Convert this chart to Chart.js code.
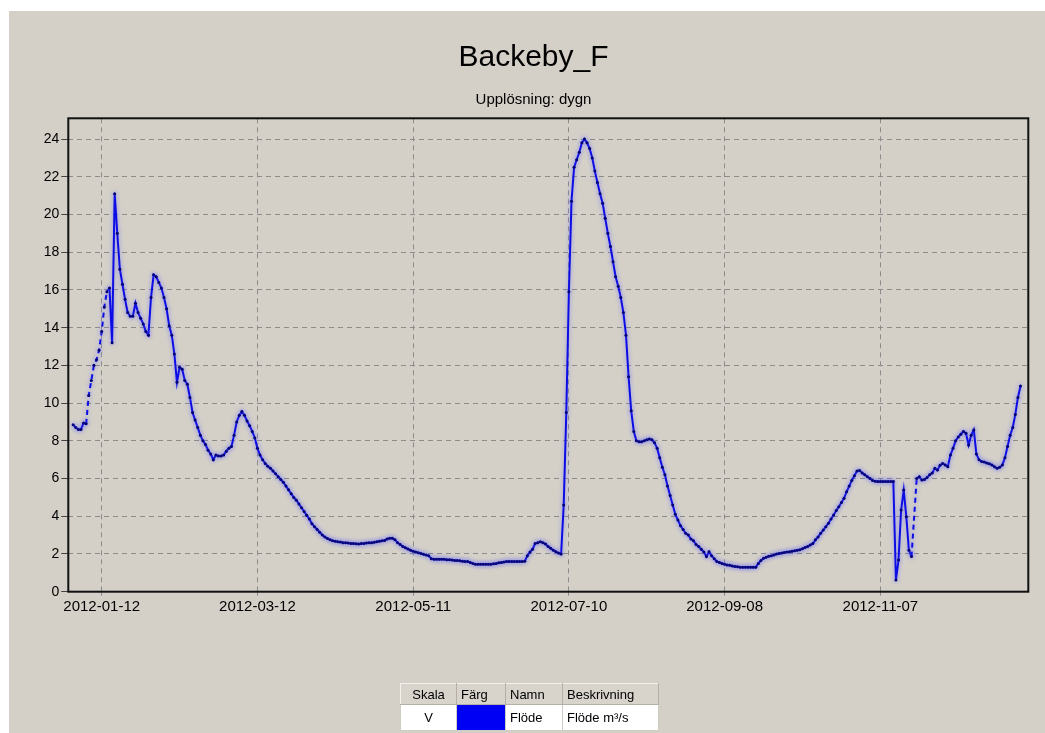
<!DOCTYPE html>
<html lang="sv">
<head>
<meta charset="UTF-8">
<title>Backeby_F</title>
<script src="https://cdn.jsdelivr.net/npm/chart.js"></script>
<style>
  html, body { margin: 0; padding: 0; background: #fff; }
  body { width: 1045px; height: 733px; position: relative; overflow: hidden; font-family: "Liberation Sans", Arial, sans-serif; }
  #panel { position: absolute; left: 9px; top: 11px; width: 1036px; height: 722px; background: #d4d0c8; }
  #graf { position: absolute; left: 0; top: 0; }
  #tabell { position: absolute; left: 400px; top: 683px; border-collapse: collapse; table-layout: fixed; width: 258px; font-size: 13px; color: #000; }
  #tabell th, #tabell td { padding: 0 4px; white-space: nowrap; overflow: hidden; text-align: left; font-weight: normal; }
  #tabell th { height: 20px; background: #d8d4cc; border: 1px solid #b4b0a8; border-top-color: #f4f2ee; border-left-color: #f4f2ee; }
  #tabell td { height: 25px; background: #fff; border: 1px solid #d0ccc4; }
  #tabell .mitt { text-align: center; }
  #tabell .farg { background: #0000f4; }
</style>
</head>
<body>
<div id="panel"></div>
<canvas id="graf" width="1045" height="733"></canvas>
<table id="tabell">
  <colgroup><col style="width:56px"><col style="width:49px"><col style="width:57px"><col style="width:96px"></colgroup>
  <tr><th class="mitt">Skala</th><th>Färg</th><th>Namn</th><th>Beskrivning</th></tr>
  <tr><td class="mitt">V</td><td class="farg"></td><td>Flöde</td><td>Flöde m³/s</td></tr>
</table>

<script>
// dygnsvärden 2012-01-01 .. 2012-12-31 (dag 0 = 1 jan), m3/s
const flode = [
  8.85, 8.7, 8.6, 8.6, 8.95, 8.9, 10.4, 11.2, 12.0, 12.3,
  12.8, 13.8, 15.1, 15.9, 16.1, 13.2, 21.1, 19.0, 17.1, 16.3,
  15.5, 14.8, 14.6, 14.6, 15.3, 14.8, 14.5, 14.2, 13.8, 13.6,
  15.6, 16.8, 16.7, 16.4, 16.1, 15.6, 15.0, 14.1, 13.6, 12.6,
  11.1, 11.9, 11.8, 11.2, 11.0, 10.3, 9.5, 9.1, 8.7, 8.3,
  8.0, 7.8, 7.5, 7.3, 7.0, 7.25, 7.2, 7.2, 7.25, 7.45,
  7.6, 7.7, 8.3, 9.0, 9.35, 9.55, 9.35, 9.05, 8.8, 8.5,
  8.15, 7.6, 7.25, 7.0, 6.8, 6.65, 6.55, 6.4, 6.25, 6.1,
  5.95, 5.8, 5.6, 5.4, 5.2, 5.0, 4.85, 4.65, 4.45, 4.25,
  4.05, 3.85, 3.6, 3.45, 3.3, 3.15, 3.0, 2.9, 2.82, 2.75,
  2.7, 2.68, 2.65, 2.63, 2.6, 2.6, 2.58, 2.56, 2.55, 2.54,
  2.53, 2.55, 2.56, 2.58, 2.6, 2.6, 2.62, 2.65, 2.67, 2.7,
  2.72, 2.8, 2.83, 2.83, 2.75, 2.6, 2.5, 2.4, 2.33, 2.27,
  2.2, 2.15, 2.1, 2.07, 2.03, 1.98, 1.95, 1.9, 1.75, 1.72,
  1.72, 1.72, 1.72, 1.72, 1.7, 1.7, 1.68, 1.66, 1.65, 1.64,
  1.62, 1.6, 1.6, 1.55, 1.5, 1.45, 1.45, 1.45, 1.45, 1.45,
  1.45, 1.45, 1.48, 1.5, 1.53, 1.55, 1.57, 1.6, 1.6, 1.6,
  1.6, 1.6, 1.6, 1.6, 1.62, 1.9, 2.1, 2.25, 2.55, 2.6,
  2.65, 2.6, 2.53, 2.4, 2.3, 2.2, 2.12, 2.05, 2.0, 4.6,
  9.5, 15.9, 20.7, 22.5, 22.9, 23.3, 23.8, 24.0, 23.8, 23.5,
  23.0, 22.3, 21.7, 21.1, 20.6, 19.8, 19.0, 18.3, 17.5, 16.7,
  16.2, 15.6, 14.8, 13.6, 11.4, 9.6, 8.5, 8.0, 7.95, 7.95,
  8.0, 8.05, 8.1, 8.05, 7.9, 7.6, 7.1, 6.6, 6.2, 5.6,
  5.1, 4.6, 4.1, 3.8, 3.5, 3.3, 3.1, 3.0, 2.8, 2.7,
  2.5, 2.4, 2.25, 2.1, 1.86, 2.12, 1.9, 1.75, 1.6, 1.55,
  1.5, 1.45, 1.42, 1.4, 1.36, 1.33, 1.32, 1.3, 1.3, 1.29,
  1.29, 1.29, 1.29, 1.3, 1.5, 1.65, 1.77, 1.82, 1.88, 1.9,
  1.95, 2.0, 2.03, 2.05, 2.08, 2.1, 2.12, 2.15, 2.17, 2.2,
  2.23, 2.28, 2.35, 2.4, 2.48, 2.55, 2.75, 2.9, 3.1, 3.27,
  3.45, 3.63, 3.85, 4.07, 4.3, 4.5, 4.73, 4.95, 5.3, 5.6,
  5.9, 6.15, 6.4, 6.42, 6.3, 6.2, 6.1, 6.0, 5.9, 5.85,
  5.84, 5.84, 5.84, 5.84, 5.84, 5.84, 5.84, 0.62, 1.68, 4.33,
  5.39, 3.98, 2.2, 1.86, null, 6.0, 6.1, 5.92, 5.95, 6.05,
  6.2, 6.3, 6.54, 6.45, 6.7, 6.8, 6.72, 6.63, 7.25, 7.6,
  8.0, 8.2, 8.35, 8.5, 8.4, 7.78, 8.3, 8.58, 7.3, 7.0,
  6.9, 6.88, 6.82, 6.78, 6.72, 6.62, 6.54, 6.6, 6.72, 7.1,
  7.7, 8.3, 8.7, 9.4, 10.3, 10.9
];
// dagar där linjen ritas streckad (osäkra värden)
const streckadeDagar = [5, 6, 7, 8, 9, 10, 11, 12, 13];

const tickDagar = [11, 71, 131, 191, 251, 311];
const tickDatum = ['2012-01-12', '2012-03-12', '2012-05-11', '2012-07-10', '2012-09-08', '2012-11-07'];
const yTicks = [0, 2, 4, 6, 8, 10, 12, 14, 16, 18, 20, 22, 24];

const punkter = flode.map((v, i) => ({ x: i, y: v }));

const ram = {
  id: 'ram',
  beforeDatasetsDraw(chart) {
    const c = chart.ctx;
    c.save();
    c.shadowColor = 'rgba(110,110,255,0.7)';
    c.shadowBlur = 4;
  },
  afterDatasetsDraw(chart) {
    chart.ctx.restore();
  },
  afterDraw(chart) {
    const { ctx, chartArea: a } = chart;
    ctx.save();
    ctx.strokeStyle = '#111';
    ctx.lineWidth = 2;
    ctx.strokeRect(a.left, a.top, a.right - a.left, a.bottom - a.top);
    ctx.restore();
  }
};

new Chart(document.getElementById('graf'), {
  type: 'line',
  data: {
    datasets: [{
      label: 'Flöde',
      data: punkter,
      borderColor: '#0c0ce4',
      borderWidth: 2,
      pointRadius: 1.5,
      pointBorderWidth: 0,
      pointBackgroundColor: '#000070',
      spanGaps: true,
      segment: {
        borderDash: ctx => (ctx.p0.skip || ctx.p1.skip || streckadeDagar.includes(ctx.p0DataIndex)) ? [5, 4] : undefined
      }
    }]
  },
  options: {
    responsive: false,
    animation: false,
    layout: { padding: { left: 38.7, right: 16.7, top: 0, bottom: 111.3 } },
    plugins: {
      legend: { display: false },
      tooltip: { enabled: false },
      title: {
        display: true,
        text: 'Backeby_F',
        color: '#000',
        font: { family: 'Liberation Sans', size: 30, weight: 'normal' },
        padding: { top: 40, bottom: 6 }
      },
      subtitle: {
        display: true,
        text: 'Upplösning: dygn',
        color: '#000',
        font: { family: 'Liberation Sans', size: 15, weight: 'normal' },
        padding: { top: 9, bottom: 9.3 }
      }
    },
    scales: {
      x: {
        type: 'linear',
        min: -1.87,
        max: 368,
        afterFit: s => { s.height = 30; },
        afterBuildTicks: s => { s.ticks = tickDagar.map(v => ({ value: v })); },
        ticks: {
          autoSkip: false,
          maxRotation: 0,
          padding: 2,
          color: '#000',
          font: { family: 'Liberation Sans', size: 15 },
          callback: v => tickDatum[tickDagar.indexOf(v)]
        },
        grid: { color: '#8c8c8c', lineWidth: 1, tickLength: 4, tickColor: '#8c8c8c' },
        border: { display: false, dash: [5, 4] }
      },
      y: {
        min: 0,
        max: 25.1,
        afterFit: s => { s.width = 29.6; },
        afterBuildTicks: s => { s.ticks = yTicks.map(v => ({ value: v })); },
        ticks: {
          padding: 2,
          color: '#000',
          font: { family: 'Liberation Sans', size: 14 }
        },
        grid: { color: '#8c8c8c', lineWidth: 1, tickLength: 7, tickColor: '#444' },
        border: { display: false, dash: [5, 4] }
      }
    }
  },
  plugins: [ram]
});
</script>
</body>
</html>
